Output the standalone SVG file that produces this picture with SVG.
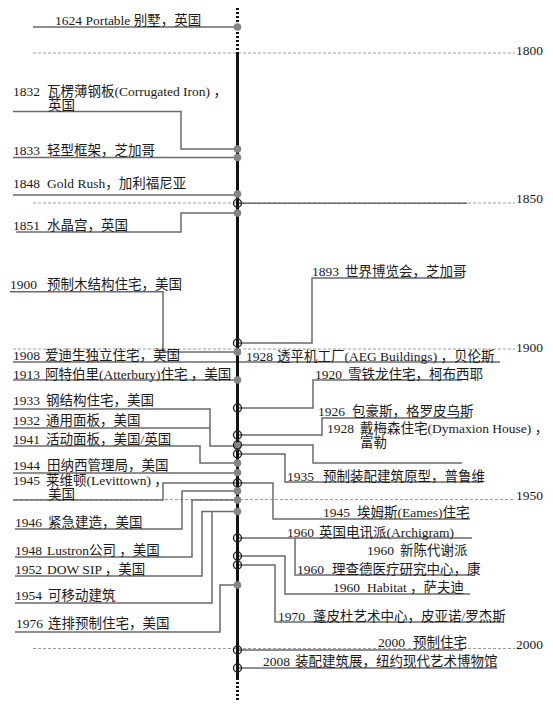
<svg xmlns="http://www.w3.org/2000/svg" width="553" height="709" viewBox="0 0 553 709">
<style>
.t{font-family:"Liberation Serif","Noto Sans CJK SC",serif;font-size:13.5px;fill:#1a1a1a}
.c{fill:none;stroke:#6a6a6a;stroke-width:1.5}
.yr{fill:none;stroke:#9c9c9c;stroke-width:1;stroke-dasharray:3 2}
.dot{fill:#858585}
.ring{fill:none;stroke:#222;stroke-width:1.4}
.ax{stroke:#111;stroke-width:3;fill:none}
.axd{stroke:#111;stroke-width:3;fill:none;stroke-dasharray:2 2}
</style>
<rect width="553" height="709" fill="#fff"/>
<g id="years">
<path class="yr" d="M33 53H515"/><text class="t" x="516" y="55">1800</text>
<path class="yr" d="M33 203H515"/><text class="t" x="516" y="203">1850</text>
<path class="yr" d="M13 349H515"/><text class="t" x="516" y="351.5">1900</text>
<path class="yr" d="M15 499.5H515"/><text class="t" x="516" y="500">1950</text>
<path class="yr" d="M33 648.5H515"/><text class="t" x="516" y="649">2000</text>
</g>
<g id="connectors">
<path class="c" d="M33 27H237.5"/>
<path class="c" d="M13 111.5H181V149H237.5"/>
<path class="c" d="M13 157.5H237.5"/>
<path class="c" d="M13 195H237.5"/>
<path class="c" d="M237.5 203.3H467"/>
<path class="c" d="M16 232H181V213H237.5"/>
<path class="c" d="M10 291.7H163V352H237.5"/>
<path class="c" d="M237.5 343H312V278H462"/>
<path class="c" d="M13 362H500"/>
<path class="c" d="M13 380H237.5"/>
<path class="c" d="M237.5 408H313V380H462"/>
<path class="c" d="M13 409H210V446H237.5"/>
<path class="c" d="M13 428H210"/>
<path class="c" d="M237.5 435H322V418H470"/>
<path class="c" d="M237.5 445H313V463H462"/>
<path class="c" d="M13 446H200V463H237.5"/>
<path class="c" d="M237.5 454H285V482H483"/>
<path class="c" d="M13 473H237.5"/>
<path class="c" d="M13 500H163V483H237.5"/>
<path class="c" d="M237.5 483H273V519H470"/>
<path class="c" d="M15 529H182V491H237.5"/>
<path class="c" d="M15 557H192V500H237.5"/>
<path class="c" d="M15 576H202V511.5H237.5"/>
<path class="c" d="M15 603H212V511.5"/>
<path class="c" d="M15 632H220V585H237.5"/>
<path class="c" d="M237.5 538H472"/>
<path class="c" d="M295 538V575H472"/>
<path class="c" d="M237.5 556H285V594H470"/>
<path class="c" d="M237.5 565H275V622H503"/>
<path class="c" d="M237.5 650H463"/>
<path class="c" d="M237.5 668H497"/>
</g>
<g id="axis">
<path class="axd" d="M237.5 8V52"/>
<path class="ax" d="M237.5 52V678"/>
<path class="axd" d="M237.5 678V702"/>
</g>
<g id="n1624"><text class="t" x="55" y="24.5">1624 Portable 别墅，英国</text><circle class="dot" cx="237.5" cy="27" r="3.8"/></g>
<g id="n1832"><text class="t" x="13" y="95.5">1832</text><text class="t" x="47" y="95.5">瓦楞薄钢板(Corrugated Iron) ，</text><text class="t" x="48" y="110">英国</text><circle class="dot" cx="237.5" cy="149" r="3.8"/></g>
<g id="n1833"><text class="t" x="13" y="155">1833</text><text class="t" x="47" y="155">轻型框架，芝加哥</text><circle class="dot" cx="237.5" cy="157.5" r="3.8"/></g>
<g id="n1848"><text class="t" x="13" y="188">1848</text><text class="t" x="47" y="188">Gold Rush，加利福尼亚</text><circle class="dot" cx="237.5" cy="194" r="3.8"/></g>
<g id="n1850"><circle class="ring" cx="237.5" cy="203.3" r="4"/></g>
<g id="n1851"><text class="t" x="13" y="230">1851</text><text class="t" x="47" y="230">水晶宫，英国</text><circle class="dot" cx="237.5" cy="213" r="3.8"/></g>
<g id="n1900"><text class="t" x="10" y="289">1900</text><text class="t" x="47" y="289">预制木结构住宅，美国</text><circle class="dot" cx="237.5" cy="352" r="3.8"/></g>
<g id="n1893"><text class="t" x="312" y="276">1893</text><text class="t" x="345" y="276">世界博览会，芝加哥</text><circle class="ring" cx="237.5" cy="343" r="4"/></g>
<g id="n1908"><text class="t" x="13" y="360">1908</text><text class="t" x="45" y="360">爱迪生独立住宅，美国</text></g>
<g id="n1928a"><text class="t" x="246" y="360.5">1928</text><text class="t" x="277" y="360.5">透平机工厂(AEG Buildings) ，贝伦斯</text></g>
<g id="n1913"><text class="t" x="13" y="378.5">1913</text><text class="t" x="45" y="378.5">阿特伯里(Atterbury)住宅 ，美国</text><circle class="dot" cx="237.5" cy="380" r="3.8"/></g>
<g id="n1920"><text class="t" x="315" y="378.5">1920</text><text class="t" x="348" y="378.5">雪铁龙住宅，柯布西耶</text><circle class="ring" cx="237.5" cy="408" r="4"/></g>
<g id="n1933"><text class="t" x="13" y="405">1933</text><text class="t" x="46" y="405">钢结构住宅，美国</text><circle class="dot" cx="237.5" cy="446" r="3.8"/></g>
<g id="n1926"><text class="t" x="318" y="415.5">1926</text><text class="t" x="352" y="415.5">包豪斯，格罗皮乌斯</text><circle class="ring" cx="237.5" cy="435" r="4"/></g>
<g id="n1932"><text class="t" x="13" y="425">1932</text><text class="t" x="46" y="425">通用面板，美国</text></g>
<g id="n1928b"><text class="t" x="327" y="432.5">1928</text><text class="t" x="360" y="432.5">戴梅森住宅(Dymaxion House) ，</text><text class="t" x="360" y="447">富勒</text><circle class="ring" cx="237.5" cy="445" r="4"/></g>
<g id="n1941"><text class="t" x="13" y="443.5">1941</text><text class="t" x="46" y="443.5">活动面板，美国/英国</text><circle class="dot" cx="237.5" cy="463" r="3.8"/></g>
<g id="n1935"><text class="t" x="287" y="480.5">1935</text><text class="t" x="323" y="480.5">预制装配建筑原型，普鲁维</text><circle class="ring" cx="237.5" cy="454" r="4"/></g>
<g id="n1944"><text class="t" x="13" y="470">1944</text><text class="t" x="47" y="470">田纳西管理局，美国</text><circle class="dot" cx="237.5" cy="472.5" r="3.8"/></g>
<g id="n1945a"><text class="t" x="13" y="484.5">1945</text><text class="t" x="46" y="484.5">莱维顿(Levittown) ，</text><text class="t" x="48" y="499">美国</text></g>
<g id="n1945b"><text class="t" x="323" y="517">1945</text><text class="t" x="357" y="517">埃姆斯(Eames)住宅</text><circle class="ring" cx="237.5" cy="483" r="4"/></g>
<g id="n1946"><text class="t" x="15" y="527">1946</text><text class="t" x="48" y="527">紧急建造，美国</text><circle class="dot" cx="237.5" cy="491" r="3.8"/></g>
<g id="n1948"><text class="t" x="15" y="555">1948</text><text class="t" x="47" y="555">Lustron公司 ，美国</text><circle class="dot" cx="237.5" cy="500" r="3.8"/></g>
<g id="n1952"><text class="t" x="15" y="574">1952</text><text class="t" x="47" y="574">DOW SIP ，美国</text><circle class="dot" cx="237.5" cy="511.5" r="3.8"/></g>
<g id="n1954"><text class="t" x="15" y="600">1954</text><text class="t" x="48" y="600">可移动建筑</text></g>
<g id="n1976"><text class="t" x="16" y="628">1976</text><text class="t" x="48" y="628">连排预制住宅，美国</text><circle class="dot" cx="237.5" cy="585" r="3.8"/></g>
<g id="n1960a"><text class="t" x="287" y="536.5">1960</text><text class="t" x="319" y="536.5">英国电讯派(Archigram)</text><circle class="ring" cx="237.5" cy="538" r="4"/></g>
<g id="n1960b"><text class="t" x="367" y="555">1960</text><text class="t" x="400" y="555">新陈代谢派</text></g>
<g id="n1960c"><text class="t" x="297" y="573.5">1960</text><text class="t" x="332" y="573.5">理查德医疗研究中心，康</text></g>
<g id="n1960d"><text class="t" x="333" y="592">1960</text><text class="t" x="367" y="592">Habitat ，萨夫迪</text><circle class="ring" cx="237.5" cy="556" r="4"/></g>
<g id="n1970"><text class="t" x="278" y="620.5">1970</text><text class="t" x="313" y="620.5">蓬皮杜艺术中心，皮亚诺/罗杰斯</text><circle class="ring" cx="237.5" cy="565" r="4"/></g>
<g id="n2000"><text class="t" x="378" y="647">2000</text><text class="t" x="413" y="647">预制住宅</text><circle class="ring" cx="237.5" cy="650" r="4"/></g>
<g id="n2008"><text class="t" x="263" y="665.5">2008</text><text class="t" x="295" y="665.5">装配建筑展，纽约现代艺术博物馆</text><circle class="ring" cx="237.5" cy="668" r="4"/></g>
</svg>
